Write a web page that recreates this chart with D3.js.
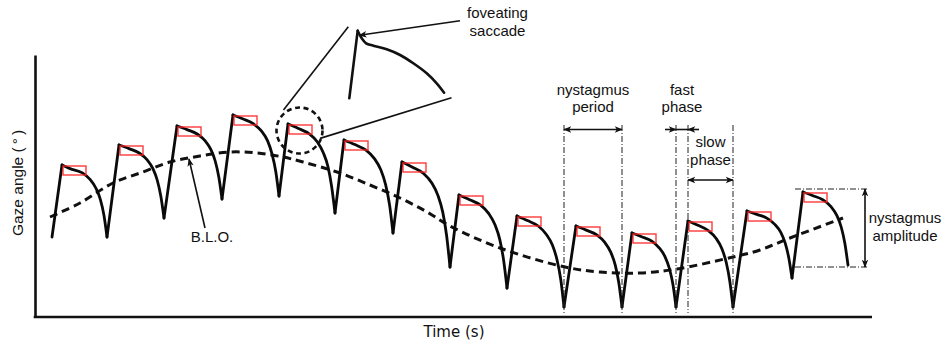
<!DOCTYPE html>
<html>
<head>
<meta charset="utf-8">
<script src="https://cdn.jsdelivr.net/npm/d3@7"></script>
<style>
  html, body { margin: 0; padding: 0; background: #fff; }
  svg { display: block; }
  text { font-family: "Liberation Sans", Arial, sans-serif; font-size: 15px; fill: #111; }
</style>
</head>
<body>
<svg id="chart" width="944" height="346"></svg>
<script>
// Eye position trace of jerk nystagmus: time in ms, gaze angle in degrees.
const traceStart = [80, -5.1];

// Each slow phase begins at the peak reached by the preceding fast phase.
const slowPhases = [
  [[130, 2.1], [170, 1.74], [232, 1.31], [270, 0.66], [299, -0.2], [322, -1.36], [340, -2.94], [355, -5.1]],
  [[415, 4.1], [465, 3.74], [516, 3.3], [555, 2.64], [584, 1.76], [606, 0.6], [624, -1.01], [640, -3.2]],
  [[705, 6.0], [755, 5.64], [806, 5.2], [845, 4.54], [874, 3.66], [896, 2.5], [914, 0.89], [930, -1.3]],
  [[985, 7.1], [1036, 6.7], [1088, 6.21], [1128, 5.48], [1158, 4.51], [1180, 3.21], [1199, 1.43], [1215, -1.0]],
  [[1260, 6.2], [1312, 5.75], [1366, 5.22], [1406, 4.42], [1436, 3.35], [1460, 1.93], [1478, -0.03], [1495, -2.7]],
  [[1540, 4.6], [1594, 4.14], [1650, 3.58], [1692, 2.74], [1724, 1.62], [1748, 0.14], [1768, -1.91], [1785, -4.7]],
  [[1830, 2.4], [1883, 1.88], [1938, 1.25], [1979, 0.3], [2010, -0.96], [2034, -2.64], [2053, -4.95], [2070, -8.1]],
  [[2115, -0.9], [2168, -1.37], [2223, -1.92], [2264, -2.76], [2295, -3.88], [2319, -5.36], [2338, -7.41], [2355, -10.2]],
  [[2405, -3.0], [2457, -3.46], [2511, -4.0], [2551, -4.82], [2582, -5.91], [2605, -7.37], [2624, -9.37], [2640, -12.1]],
  [[2700, -4.0], [2751, -4.41], [2804, -4.89], [2843, -5.62], [2873, -6.59], [2896, -7.89], [2914, -9.67], [2930, -12.1]],
  [[2980, -4.7], [3028, -5.07], [3079, -5.51], [3116, -6.18], [3145, -7.07], [3167, -8.25], [3185, -9.88], [3200, -12.1]],
  [[3260, -3.5], [3310, -3.93], [3361, -4.45], [3400, -5.22], [3429, -6.25], [3451, -7.63], [3469, -9.52], [3485, -12.1]],
  [[3555, -2.5], [3604, -2.84], [3656, -3.24], [3694, -3.84], [3724, -4.64], [3746, -5.72], [3764, -7.19], [3780, -9.2]],
  [[3835, -0.6], [3885, -0.97], [3936, -1.4], [3975, -2.06], [4004, -2.94], [4026, -4.1], [4044, -5.71], [4060, -7.9]]
];

// Baseline oscillation (B.L.O.)
const bloTime = [70, 220, 385, 535, 670, 820, 970, 1105, 1235, 1335, 1505, 1670, 1820, 1955, 2070, 2320, 2645, 2820, 3020, 3205, 3485, 3620, 3770, 4035];
const bloGaze = [-3.1, -1.7, 0.3, 1.4, 2.4, 3.0, 3.4, 3.3, 2.9, 2.4, 1.4, 0.1, -1.2, -2.6, -4.0, -6.2, -8.1, -8.6, -8.7, -8.3, -7.1, -6.4, -5.2, -3.2];

// Magnified foveating saccade (local ms, local degrees)
const insetTrace = [[0, 0], [42, 6.76]];
const insetSlow = [[42, 6.76], [62, 6.0], [84, 5.5], [120, 5.26], [187, 4.9], [254, 4.33], [320, 3.5], [387, 2.5], [437, 1.5], [474, 0.56]];

// Labels
const xLabel = "Time (s)";
const yLabel = "Gaze angle (°)";
const periodLabel = ["nystagmus", "period"];
const fastLabel = ["fast", "phase"];
const slowLabel = ["slow", "phase"];
const amplitudeLabel = ["nystagmus", "amplitude"];
const saccadeLabel = ["foveating", "saccade"];
const bloLabel = "B.L.O.";

// Foveation window drawn after each peak
const foveationMs = 115;
const foveationDeg = 0.9;

const svg = d3.select("#chart");
const x = d3.scaleLinear().domain([0, 4180]).range([36, 872]);
const y = d3.scaleLinear().domain([-13.1, 13.1]).range([317, 55]);

// Arrow heads
const defs = svg.append("defs");
defs.append("marker")
  .attr("id", "arrow")
  .attr("viewBox", "0 -5 10 10")
  .attr("refX", 9).attr("refY", 0)
  .attr("markerUnits", "userSpaceOnUse")
  .attr("markerWidth", 9).attr("markerHeight", 8)
  .attr("orient", "auto-start-reverse")
  .append("path").attr("d", "M0,-4L10,0L0,4L2.5,0Z").attr("fill", "#111");

// Axes (no ticks)
const xAxis = d3.axisBottom(x).ticks(0).tickSizeOuter(0);
const yAxis = d3.axisLeft(y).ticks(0).tickSizeOuter(0);
const gx = svg.append("g").attr("transform", "translate(-1,0.5)").attr("transform", `translate(0,${y(-13.1)})`).call(xAxis);
gx.select(".domain").attr("stroke", "#111").attr("stroke-width", 2.6)
  .attr("d", `M${x(0) - 2.3},0H${x(4180)}`);
const gy = svg.append("g").attr("transform", `translate(${x(0) - 1},0)`).call(yAxis);
gy.select(".domain").attr("stroke", "#111").attr("stroke-width", 2.6);

svg.append("text").attr("x", 454).attr("y", 337).attr("text-anchor", "middle")
  .style("font-family", "'DejaVu Sans', Verdana, sans-serif").text(xLabel);

const yl = svg.append("text").attr("transform", "translate(23,183) rotate(-90)")
  .attr("text-anchor", "middle").style("font-size", "15.5px");
yl.append("tspan").text(yLabel.slice(0, 12));
yl.append("tspan").attr("dx", 3).text(yLabel.slice(12, 13));
yl.append("tspan").attr("dx", 3).text(yLabel.slice(13));

// Baseline oscillation
const bloPts = bloTime.map((t, i) => [t, bloGaze[i]]);
svg.append("path")
  .datum(bloPts)
  .attr("fill", "none").attr("stroke", "#111").attr("stroke-width", 3)
  .attr("stroke-dasharray", "8,5")
  .attr("d", d3.line().x(d => x(d[0])).y(d => y(d[1])).curve(d3.curveCatmullRom));

// Nystagmus trace: straight fast phases, curved slow phases
const straight = d3.line().x(d => x(d[0])).y(d => y(d[1]));
const curved = d3.line().x(d => x(d[0])).y(d => y(d[1])).curve(d3.curveMonotoneX);
const trace = svg.append("g").attr("fill", "none").attr("stroke", "#0a0a0a")
  .attr("stroke-width", 2.8).attr("stroke-linecap", "round").attr("stroke-linejoin", "round");
slowPhases.forEach((sp, i) => {
  const from = i === 0 ? traceStart : slowPhases[i - 1][slowPhases[i - 1].length - 1];
  trace.append("path").attr("d", straight([from, sp[0]]));
  trace.append("path").attr("d", curved(sp));
});

// Foveation windows
svg.append("g").selectAll("rect").data(slowPhases.map(sp => sp[0])).join("rect")
  .attr("x", d => x(d[0]) + 1)
  .attr("y", d => y(d[1]) + 1)
  .attr("width", d => x(d[0] + foveationMs) - x(d[0]))
  .attr("height", d => y(d[1] - foveationDeg) - y(d[1]))
  .attr("fill", "none").attr("stroke", "#ff2424").attr("stroke-width", 1.4).attr("opacity", 0.9);

// Magnifier circle around the fifth peak and the enlarged view
const focus = slowPhases[4][0];
const cx = x(focus[0]) + 11.5, cy = y(focus[1]) + 6.5, r = 23;
svg.append("circle").attr("cx", cx).attr("cy", cy).attr("r", r)
  .attr("fill", "none").attr("stroke", "#111").attr("stroke-width", 2.6).attr("stroke-dasharray", "5,3.6");

const ix = d3.scaleLinear().domain([0, 500]).range([349.3, 449.3]);
const iy = d3.scaleLinear().domain([0, 10]).range([98.3, -1.7]);
const insetG = svg.append("g").attr("fill", "none").attr("stroke", "#111").attr("stroke-width", 2.6)
  .attr("stroke-linecap", "round").attr("stroke-linejoin", "miter");
insetG.append("path").attr("d", d3.line().x(d => ix(d[0])).y(d => iy(d[1]))(insetTrace));
insetG.append("path").attr("d", d3.line().x(d => ix(d[0])).y(d => iy(d[1])).curve(d3.curveCatmullRom)(insetSlow));

const a1 = -128 * Math.PI / 180, a2 = 21 * Math.PI / 180;
const conn = svg.append("g").attr("stroke", "#111").attr("stroke-width", 1.6);
conn.append("line").attr("x1", cx + (r + 3) * Math.cos(a1)).attr("y1", cy + (r + 3) * Math.sin(a1))
  .attr("x2", ix(-5)).attr("y2", iy(7.16));
conn.append("line").attr("x1", cx + (r - 1) * Math.cos(a2)).attr("y1", cy + (r - 1) * Math.sin(a2))
  .attr("x2", ix(511)).attr("y2", iy(0.06));

// Foveating saccade callout
svg.append("line").attr("x1", 460).attr("y1", 20.7).attr("x2", ix(50)).attr("y2", iy(6.3))
  .attr("stroke", "#111").attr("stroke-width", 1.6).attr("marker-end", "url(#arrow)");
saccadeLabel.forEach((s, i) => svg.append("text").attr("x", 497.5).attr("y", 18 + i * 17.5)
  .attr("text-anchor", "middle").text(s));

// B.L.O. callout
svg.append("text").attr("x", 212).attr("y", 241.5).attr("text-anchor", "middle").text(bloLabel);
svg.append("line").attr("x1", 205).attr("y1", 228).attr("x2", 189).attr("y2", 159)
  .attr("stroke", "#111").attr("stroke-width", 1.6).attr("marker-end", "url(#arrow)");

// Reference lines and dimension arrows
const guide = svg.append("g").attr("stroke", "#222").attr("stroke-width", 1).attr("stroke-dasharray", "6,2,1,2");
const dim = svg.append("g").attr("stroke", "#111").attr("stroke-width", 1.6);
const last = sp => sp[sp.length - 1];

const pA = x(last(slowPhases[8])[0]), pB = x(last(slowPhases[9])[0]);
const fA = x(last(slowPhases[10])[0]), fB = x(slowPhases[11][0][0]);
const sB = x(last(slowPhases[11])[0]);
[pA, pB, fA, fB, sB].forEach(v => guide.append("line").attr("x1", v).attr("x2", v).attr("y1", 125).attr("y2", 313));

dim.append("line").attr("x1", pA).attr("x2", pB).attr("y1", 129.5).attr("y2", 129.5)
  .attr("marker-start", "url(#arrow)").attr("marker-end", "url(#arrow)");
periodLabel.forEach((s, i) => svg.append("text").attr("x", (pA + pB) / 2).attr("y", 95 + i * 17)
  .attr("text-anchor", "middle").text(s));

dim.append("line").attr("x1", fA - 11).attr("x2", fA).attr("y1", 129.5).attr("y2", 129.5).attr("marker-end", "url(#arrow)");
dim.append("line").attr("x1", fB + 11).attr("x2", fB).attr("y1", 129.5).attr("y2", 129.5).attr("marker-end", "url(#arrow)");
dim.append("line").attr("x1", fA).attr("x2", fB).attr("y1", 129.5).attr("y2", 129.5);
fastLabel.forEach((s, i) => svg.append("text").attr("x", (fA + fB) / 2).attr("y", 95 + i * 17)
  .attr("text-anchor", "middle").text(s));

dim.append("line").attr("x1", fB).attr("x2", sB).attr("y1", 180).attr("y2", 180)
  .attr("marker-start", "url(#arrow)").attr("marker-end", "url(#arrow)");
slowLabel.forEach((s, i) => svg.append("text").attr("x", (fB + sB) / 2).attr("y", 147 + i * 18)
  .attr("text-anchor", "middle").text(s));

// Amplitude of the last beat
const lastBeat = slowPhases[slowPhases.length - 1];
const topY = y(lastBeat[0][1]) - 3, botY = y(last(lastBeat)[1]) + 2;
const ampL = x(lastBeat[0][0]) - 8, ampR = x(last(lastBeat)[0]) + 20;
[topY, botY].forEach(v => guide.append("line").attr("x1", ampL).attr("x2", ampR).attr("y1", v).attr("y2", v));
dim.append("line").attr("x1", ampR - 3).attr("x2", ampR - 3).attr("y1", topY).attr("y2", botY)
  .attr("marker-start", "url(#arrow)").attr("marker-end", "url(#arrow)");
amplitudeLabel.forEach((s, i) => svg.append("text").attr("x", 905).attr("y", 223 + i * 17.5)
  .attr("text-anchor", "middle").text(s));
</script>
</body>
</html>
